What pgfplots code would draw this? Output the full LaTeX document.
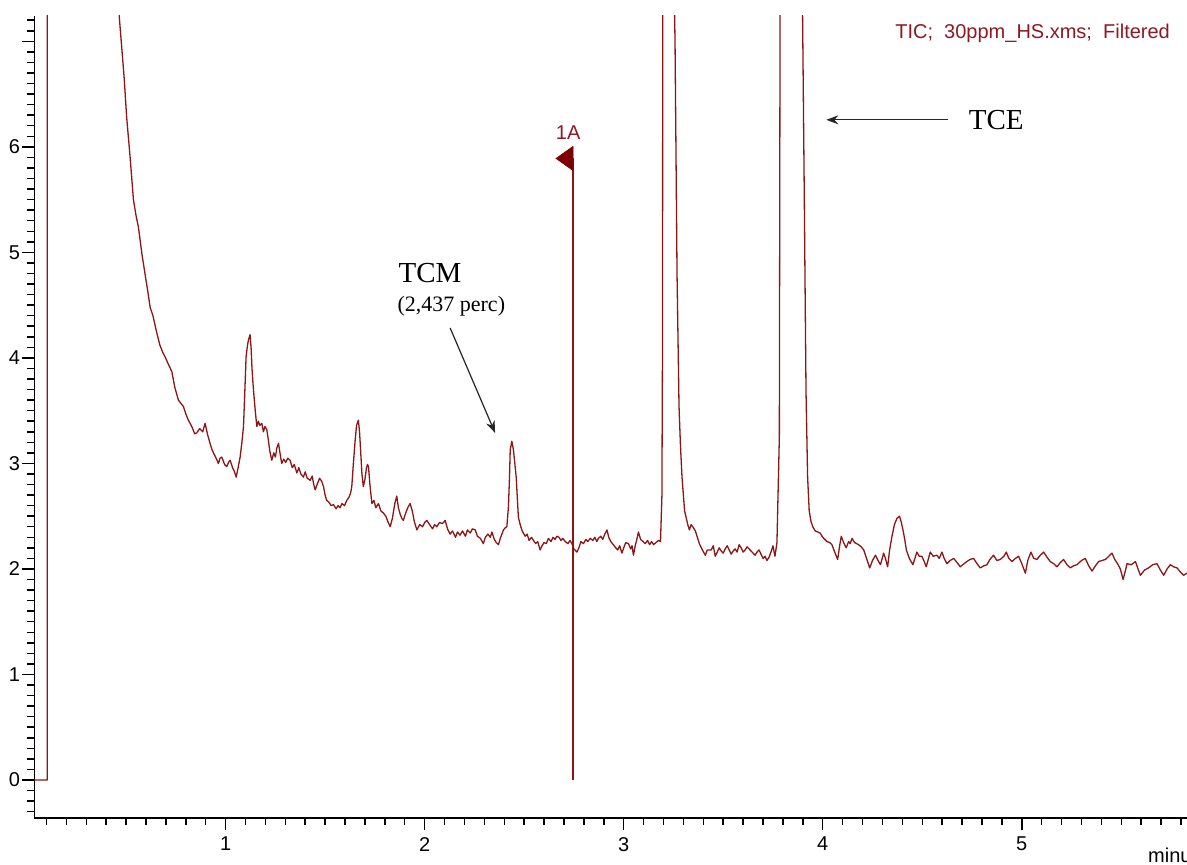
\documentclass[border=0pt]{standalone}
\usepackage{fontspec}
\setmainfont{Liberation Sans}
\newfontfamily\serifann{Liberation Serif}
\usepackage{pgfplots}
\pgfplotsset{compat=1.18}
\usepackage{pgfplotstable}
\usetikzlibrary{arrows.meta}

\definecolor{trace}{RGB}{140,22,22}
\definecolor{flag}{RGB}{125,0,0}
\definecolor{titlered}{RGB}{140,25,35}

% Total ion current, retention time in minutes
\pgfplotstableread{
t sig
0.040 0
0.104 0
0.106 30
0.250 40
0.400 15
0.466 7.23
0.491 6.64
0.503 6.28
0.520 5.91
0.537 5.50
0.550 5.35
0.562 5.24
0.580 4.98
0.595 4.80
0.610 4.62
0.621 4.48
0.635 4.40
0.654 4.24
0.670 4.12
0.685 4.05
0.696 4.01
0.710 3.95
0.730 3.87
0.745 3.72
0.763 3.60
0.775 3.57
0.788 3.54
0.800 3.47
0.813 3.41
0.830 3.35
0.845 3.28
0.855 3.29
0.870 3.33
0.885 3.30
0.897 3.38
0.910 3.27
0.922 3.19
0.930 3.14
0.939 3.10
0.950 3.06
0.964 3.00
0.972 3.05
0.981 3.06
0.995 2.99
1.006 2.97
1.015 3.01
1.023 3.03
1.035 2.96
1.045 2.92
1.053 2.87
1.062 2.95
1.073 3.06
1.082 3.20
1.090 3.35
1.097 3.70
1.103 4.01
1.110 4.12
1.115 4.17
1.123 4.22
1.128 4.10
1.133 3.89
1.138 3.75
1.143 3.63
1.150 3.48
1.157 3.35
1.165 3.40
1.172 3.36
1.182 3.38
1.190 3.30
1.198 3.35
1.207 3.32
1.215 3.22
1.222 3.12
1.232 3.03
1.242 3.10
1.250 3.06
1.258 3.15
1.266 3.19
1.274 3.09
1.282 3.00
1.292 3.04
1.302 3.01
1.313 3.05
1.324 3.03
1.335 2.96
1.345 2.99
1.358 2.91
1.368 2.96
1.378 2.90
1.391 2.87
1.400 2.92
1.410 2.86
1.425 2.84
1.435 2.88
1.443 2.80
1.450 2.75
1.460 2.80
1.472 2.86
1.483 2.83
1.492 2.78
1.500 2.70
1.508 2.65
1.520 2.63
1.530 2.60
1.542 2.61
1.555 2.57
1.565 2.60
1.575 2.58
1.585 2.62
1.597 2.60
1.609 2.65
1.620 2.68
1.628 2.72
1.634 2.78
1.642 3.00
1.651 3.22
1.658 3.36
1.667 3.41
1.673 3.30
1.679 3.10
1.685 2.90
1.692 2.78
1.700 2.85
1.708 2.96
1.713 2.99
1.718 2.97
1.725 2.80
1.735 2.62
1.745 2.65
1.755 2.58
1.768 2.62
1.780 2.55
1.793 2.53
1.805 2.50
1.815 2.45
1.827 2.40
1.838 2.48
1.850 2.62
1.860 2.69
1.868 2.58
1.877 2.52
1.885 2.48
1.893 2.46
1.903 2.52
1.915 2.58
1.927 2.62
1.938 2.55
1.948 2.45
1.961 2.37
1.975 2.42
1.990 2.40
2.000 2.44
2.011 2.46
2.025 2.42
2.040 2.38
2.050 2.42
2.061 2.40
2.075 2.44
2.090 2.43
2.103 2.46
2.115 2.38
2.128 2.33
2.140 2.36
2.155 2.30
2.165 2.35
2.178 2.32
2.190 2.36
2.205 2.31
2.215 2.37
2.229 2.34
2.240 2.38
2.254 2.37
2.265 2.31
2.280 2.29
2.295 2.24
2.305 2.30
2.318 2.33
2.330 2.30
2.338 2.35
2.350 2.28
2.360 2.25
2.371 2.23
2.380 2.29
2.388 2.33
2.396 2.37
2.405 2.39
2.413 2.40
2.421 2.59
2.426 2.85
2.430 3.13
2.438 3.21
2.446 3.13
2.452 3.02
2.460 2.87
2.466 2.66
2.471 2.49
2.480 2.42
2.490 2.36
2.505 2.31
2.515 2.33
2.525 2.27
2.537 2.30
2.547 2.27
2.558 2.24
2.568 2.26
2.580 2.18
2.590 2.22
2.600 2.25
2.611 2.24
2.622 2.29
2.635 2.26
2.645 2.30
2.655 2.28
2.664 2.31
2.675 2.30
2.685 2.27
2.695 2.29
2.706 2.26
2.720 2.24
2.730 2.27
2.740 2.24
2.750 2.19
2.765 2.16
2.775 2.20
2.785 2.26
2.798 2.24
2.810 2.28
2.820 2.26
2.832 2.29
2.845 2.27
2.855 2.30
2.865 2.26
2.873 2.29
2.885 2.31
2.895 2.28
2.905 2.33
2.916 2.37
2.925 2.30
2.935 2.26
2.948 2.23
2.960 2.20
2.970 2.18
2.980 2.22
2.991 2.15
3.000 2.20
3.010 2.25
3.024 2.24
3.035 2.19
3.042 2.22
3.049 2.13
3.058 2.22
3.066 2.28
3.074 2.35
3.085 2.28
3.097 2.26
3.108 2.24
3.120 2.27
3.130 2.23
3.140 2.26
3.150 2.23
3.162 2.25
3.175 2.27
3.185 2.26
3.192 2.69
3.195 4.13
3.198 12.0
3.225 14.0
3.253 7.60
3.258 6.99
3.268 4.80
3.278 3.54
3.285 3.18
3.293 2.87
3.306 2.55
3.322 2.42
3.330 2.37
3.339 2.42
3.347 2.40
3.360 2.36
3.370 2.30
3.380 2.24
3.390 2.20
3.410 2.13
3.420 2.18
3.440 2.18
3.450 2.22
3.460 2.12
3.470 2.16
3.480 2.20
3.490 2.17
3.500 2.15
3.510 2.19
3.520 2.22
3.530 2.18
3.540 2.14
3.550 2.17
3.560 2.19
3.570 2.16
3.580 2.23
3.590 2.20
3.600 2.16
3.610 2.18
3.620 2.21
3.630 2.19
3.640 2.17
3.650 2.15
3.660 2.13
3.670 2.16
3.680 2.18
3.690 2.14
3.700 2.10
3.710 2.12
3.720 2.08
3.730 2.11
3.740 2.16
3.750 2.22
3.760 2.12
3.770 2.25
3.782 3.25
3.788 10.0
3.840 20.0
3.895 8.00
3.907 5.59
3.916 3.68
3.924 2.87
3.932 2.55
3.941 2.45
3.950 2.40
3.962 2.36
3.975 2.35
3.987 2.34
4.000 2.30
4.010 2.28
4.021 2.26
4.035 2.25
4.046 2.23
4.060 2.16
4.075 2.09
4.085 2.22
4.093 2.31
4.105 2.25
4.118 2.20
4.130 2.26
4.138 2.24
4.147 2.29
4.160 2.25
4.170 2.24
4.180 2.23
4.193 2.21
4.206 2.18
4.220 2.10
4.236 2.01
4.250 2.08
4.265 2.13
4.278 2.08
4.290 2.04
4.306 2.15
4.315 2.10
4.326 2.02
4.336 2.18
4.348 2.31
4.360 2.42
4.373 2.48
4.386 2.50
4.395 2.44
4.403 2.37
4.412 2.28
4.420 2.18
4.435 2.10
4.453 2.04
4.473 2.16
4.485 2.12
4.498 2.12
4.510 2.07
4.520 2.02
4.540 2.16
4.555 2.12
4.574 2.13
4.585 2.10
4.599 2.16
4.610 2.10
4.624 2.05
4.640 2.08
4.658 2.10
4.675 2.06
4.691 2.02
4.710 2.05
4.724 2.07
4.740 2.09
4.758 2.10
4.775 2.05
4.791 2.01
4.810 2.03
4.825 2.04
4.840 2.09
4.858 2.13
4.875 2.08
4.892 2.09
4.910 2.12
4.922 2.16
4.935 2.10
4.951 2.07
4.968 2.10
4.984 2.12
5.000 2.05
5.018 1.96
5.030 2.08
5.046 2.16
5.060 2.10
5.076 2.09
5.093 2.13
5.110 2.16
5.127 2.11
5.143 2.07
5.160 2.05
5.177 2.02
5.193 2.06
5.210 2.09
5.227 2.04
5.244 2.01
5.260 2.03
5.277 2.04
5.300 2.08
5.319 2.10
5.336 2.03
5.353 1.98
5.370 2.03
5.386 2.07
5.403 2.08
5.420 2.09
5.437 2.12
5.453 2.15
5.467 2.09
5.481 2.05
5.495 2.00
5.509 1.90
5.520 1.98
5.529 2.05
5.550 2.04
5.571 2.07
5.584 2.00
5.596 1.94
5.617 1.99
5.637 2.01
5.658 2.04
5.679 2.05
5.696 1.99
5.713 1.94
5.730 2.00
5.746 2.04
5.763 2.02
5.780 2.01
5.797 1.97
5.813 1.94
5.830 1.96
}\tic

\begin{document}
\begin{tikzpicture}
\begin{axis}[
  scale only axis,
  width=576.25pt, height=401pt,
  xmin=0.04, xmax=5.83, ymin=-0.36, ymax=7.24,
  axis x line*=bottom, axis y line*=left,
  axis line style={line width=0.75pt, -},
  tick align=outside,
  xtick={1,2,3,4,5},
  ytick={0,1,2,3,4,5,6,7},
  yticklabels={0,1,2,3,4,5,6,},
  minor xtick={0.1,0.2,...,5.81},
  minor ytick={-0.3,-0.2,...,7.21},
  major tick length=6pt, minor tick length=3.5pt,
  every tick/.style={black, line width=0.75pt},
  ticklabel style={font=\fontsize{10}{12}\selectfont},
  yticklabel style={inner sep=1pt},
  /pgf/number format/assume math mode=true,
  xlabel={minutes},
  xlabel style={at={(axis description cs:0.966,0)}, anchor=west,
    yshift=-18.5pt, font=\fontsize{10}{12}\selectfont, inner sep=0pt},
]
\addplot[trace, line width=0.65pt, line join=round] table[x=t, y=sig] {\tic};

% peak marker 1A
\addplot[trace, line width=0.7pt] coordinates {(2.746,0) (2.746,5.89)};
\addplot[fill=flag, draw=flag, line width=0.3pt] coordinates {(2.746,5.775) (2.66,5.89) (2.746,6.005)} -- cycle;
\node[text=titlered, font=\fontsize{10}{12}\selectfont, inner sep=0pt] at (axis cs:2.721,6.133) {1A};

% run header
\node[anchor=east, text=titlered, font=\fontsize{10}{12}\selectfont, inner sep=0pt]
  at (axis cs:5.746,7.08) {TIC;\ \ 30ppm\_HS.xms;\ \ Filtered};

% compound labels
\draw[-{Stealth[length=6pt,width=4.5pt]}, line width=0.6pt, black!85]
  (axis cs:4.631,6.256) -- (axis cs:4.018,6.256);
\node[anchor=west, font=\serifann\fontsize{14.5}{16}\selectfont, inner sep=0pt]
  at (axis cs:4.732,6.256) {TCE};
\node[anchor=west, font=\serifann\fontsize{14.5}{16}\selectfont, inner sep=0pt]
  at (axis cs:1.867,4.806) {TCM};
\node[anchor=west, font=\serifann\fontsize{11}{13}\selectfont, inner sep=0pt]
  at (axis cs:1.862,4.493) {(2,437 perc)};
\draw[-{Stealth[length=6pt,width=4.5pt]}, line width=0.6pt, black!85]
  (axis cs:2.128,4.284) -- (axis cs:2.354,3.289);

\coordinate (BL) at (rel axis cs:0,0);
\coordinate (TR) at (rel axis cs:1,1);
\end{axis}
\pgfresetboundingbox
\path[use as bounding box] ([xshift=-17.25pt,yshift=-23.5pt]BL) rectangle ([yshift=8pt]TR);
\end{tikzpicture}
\end{document}
